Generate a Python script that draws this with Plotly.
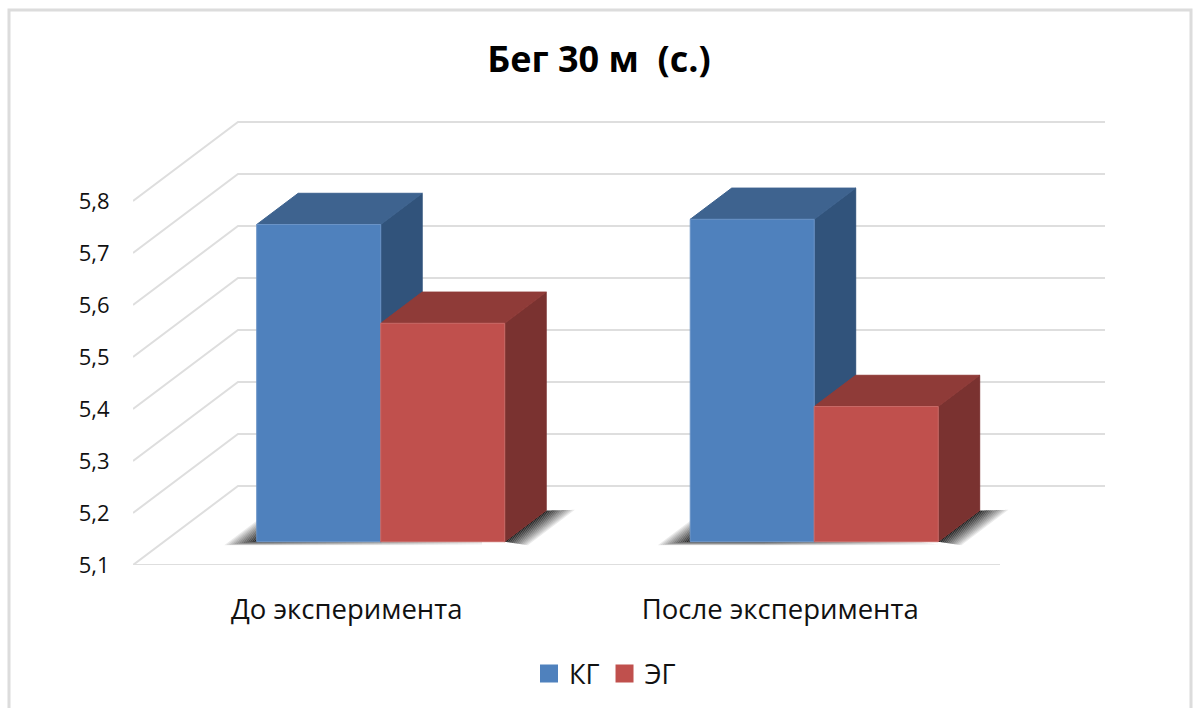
import plotly.graph_objects as go

# Chart data
title_text = "Бег 30 м  (с.)"
categories = ["До эксперимента", "После эксперимента"]
series_names = ["КГ", "ЭГ"]
kg_values = [5.71, 5.72]
eg_values = [5.52, 5.36]
tick_values = [5.1, 5.2, 5.3, 5.4, 5.5, 5.6, 5.7, 5.8]
tick_labels = ["5,1", "5,2", "5,3", "5,4", "5,5", "5,6", "5,7", "5,8"]

# Page and plot geometry
WIDTH, HEIGHT = 1196, 708
M_L, M_R, M_T, M_B = 133, 86, 110, 143
PX_PER_CAT = 433.5
PX_PER_UNIT = 520.0
X_RANGE = [-0.5, -0.5 + (WIDTH - M_L - M_R) / PX_PER_CAT]
Y_BASE = tick_values[0]
Y_RANGE = [Y_BASE, Y_BASE + (HEIGHT - M_T - M_B) / PX_PER_UNIT]

# Oblique projection: depth 0 is the front of the floor, depth 1 the back wall
DEPTH_X = 105 / PX_PER_CAT
DEPTH_Y = 79 / PX_PER_UNIT
BAR_DEPTH_FRONT = 0.295
BAR_DEPTH_BACK = 0.69
BAR_WIDTH = 124 / PX_PER_CAT

GRID_COLOR = "#DEDEDE"
KG_COLORS = {"front": "#4F81BD", "top": "#3E638F", "side": "#31537B", "edge": "#6A93C6"}
EG_COLORS = {"front": "#C0504D", "top": "#8F3B38", "side": "#7A3230", "edge": "#C96A67"}


def project(x, value, depth):
    return x + depth * DEPTH_X, value + depth * DEPTH_Y


def polygon(points, fill, line_color=None, line_width=1):
    xs, ys = zip(*[project(*p) for p in points])
    return go.Scatter(
        x=list(xs) + [xs[0]], y=list(ys) + [ys[0]], mode="lines", fill="toself",
        fillcolor=fill, line=dict(color=line_color or fill, width=line_width),
        hoverinfo="skip", showlegend=False, cliponaxis=False,
    )


fig = go.Figure()

# Floor and wall grid lines
grid_x, grid_y = [], []
for v in tick_values:
    for p in [(-0.5, v, 0), (-0.5, v, 1), (1.5, v, 1)]:
        px, py = project(*p)
        grid_x.append(px)
        grid_y.append(py)
    grid_x.append(None)
    grid_y.append(None)
grid_x += [-0.5, 1.5]
grid_y += [Y_BASE, Y_BASE]
fig.add_trace(go.Scatter(x=grid_x, y=grid_y, mode="lines", hoverinfo="skip", showlegend=False,
                         line=dict(color=GRID_COLOR, width=2), cliponaxis=False))

# Soft floor shadows: adjoining strips around each bar pair, fading outwards
SHADOW_BANDS = 14
SHADOW_REACH = 0.064
SHADOW_DEPTH_RATIO = 0.7
for c in range(len(categories)):
    xl, xr = c - BAR_WIDTH, c + BAR_WIDTH
    d0, d1 = BAR_DEPTH_FRONT, BAR_DEPTH_BACK
    for i in range(SHADOW_BANDS):
        t = i / SHADOW_BANDS
        e_in = SHADOW_REACH * t
        e_out = SHADOW_REACH * (i + 1) / SHADOW_BANDS
        de_in = e_in * SHADOW_DEPTH_RATIO
        de_out = e_out * SHADOW_DEPTH_RATIO
        fill = f"rgba(0,0,0,{0.9 * (1 - t) ** 0.9:.3f})"
        bands = [
            # left of the front face
            [(xl - e_out, Y_BASE, d0 - de_out), (xl - e_in, Y_BASE, d0 - de_in),
             (xl - e_in, Y_BASE, d1), (xl - e_out, Y_BASE, d1)],
            # right of the side face
            [(xr + e_in, Y_BASE, d0 - de_in), (xr + e_out, Y_BASE, d0 - de_out),
             (xr + e_out, Y_BASE, d1 + de_out * 0.2), (xr + e_in, Y_BASE, d1 + de_in * 0.2)],
            # below the front face
            [(xl - e_in, Y_BASE, d0 - de_in), (xr + e_in, Y_BASE, d0 - de_in),
             (xr + e_out, Y_BASE, d0 - de_out), (xl - e_out, Y_BASE, d0 - de_out)],
        ]
        for band in bands:
            fig.add_trace(polygon(band, fill, "rgba(0,0,0,0)", 0))

# Top and side faces of the bars
for c in range(len(categories)):
    for values, colors, x0 in [(kg_values, KG_COLORS, c - BAR_WIDTH), (eg_values, EG_COLORS, c)]:
        v = values[c]
        x1 = x0 + BAR_WIDTH
        fig.add_trace(polygon([(x1, Y_BASE, BAR_DEPTH_FRONT), (x1, Y_BASE, BAR_DEPTH_BACK),
                               (x1, v, BAR_DEPTH_BACK), (x1, v, BAR_DEPTH_FRONT)], colors["side"]))
        fig.add_trace(polygon([(x0, v, BAR_DEPTH_FRONT), (x1, v, BAR_DEPTH_FRONT),
                               (x1, v, BAR_DEPTH_BACK), (x0, v, BAR_DEPTH_BACK)], colors["top"]))

# Front faces of the bars live on an overlaid axis pair so they paint above the side faces
front_x = [project(c, Y_BASE, BAR_DEPTH_FRONT)[0] for c in range(len(categories))]
base_y = project(0, Y_BASE, BAR_DEPTH_FRONT)[1]
for name, values, colors in [(series_names[0], kg_values, KG_COLORS), (series_names[1], eg_values, EG_COLORS)]:
    fig.add_trace(go.Bar(
        x=front_x, y=[v - Y_BASE for v in values], base=base_y, name=name, xaxis="x2", yaxis="y2",
        marker=dict(color=colors["front"], line=dict(color=colors["edge"], width=1)),
        customdata=values, hovertemplate="%{customdata}<extra>" + name + "</extra>",
        showlegend=False, cliponaxis=False,
    ))
    # Legend key
    fig.add_trace(go.Scatter(
        x=[None], y=[None], name=name, mode="markers",
        marker=dict(symbol="square", size=16, color=colors["front"],
                    line=dict(color=colors["front"], width=2)),
    ))

fig.update_layout(
    width=WIDTH, height=HEIGHT,
    margin=dict(l=M_L, r=M_R, t=M_T, b=M_B, autoexpand=False),
    paper_bgcolor="white", plot_bgcolor="rgba(0,0,0,0)",
    font=dict(family="Open Sans", color="#111111"),
    barmode="group", bargap=1 - 2 * BAR_WIDTH, bargroupgap=0,
    title=dict(text=title_text, x=599 / WIDTH, y=1 - 59 / HEIGHT, xanchor="center", yanchor="middle",
               font=dict(family="Open Sans", size=36, color="#000000", weight="bold")),
    xaxis=dict(range=X_RANGE, tickvals=[-0.007, 0.993], ticktext=categories, showgrid=False, zeroline=False,
               showline=False, ticks="outside", ticklen=20, tickcolor="rgba(0,0,0,0)",
               tickfont=dict(size=27.5)),
    yaxis=dict(range=Y_RANGE, tickvals=tick_values, ticktext=tick_labels, showgrid=False, zeroline=False,
               showline=False, ticks="outside", ticklen=18, tickcolor="rgba(0,0,0,0)",
               tickfont=dict(size=22)),
    xaxis2=dict(range=X_RANGE, overlaying="x", visible=False),
    yaxis2=dict(range=Y_RANGE, overlaying="y", visible=False),
    legend=dict(orientation="h", x=(529 - M_L) / (WIDTH - M_L - M_R), y=(HEIGHT - M_B - 674) / (HEIGHT - M_T - M_B),
                xanchor="left", yanchor="middle", font=dict(size=27), bgcolor="rgba(0,0,0,0)",
                itemwidth=30, tracegroupgap=0),
    shapes=[dict(
        type="rect", layer="below", xref="paper", yref="paper",
        x0=(9 - M_L) / (WIDTH - M_L - M_R), x1=(1191 - M_L) / (WIDTH - M_L - M_R),
        y0=(HEIGHT - M_B - 730) / (HEIGHT - M_T - M_B), y1=(HEIGHT - M_B - 10) / (HEIGHT - M_T - M_B),
        line=dict(color="#DCDCDC", width=3), fillcolor="white",
    )],
)

fig.write_html("out.html", config={"displayModeBar": False})
